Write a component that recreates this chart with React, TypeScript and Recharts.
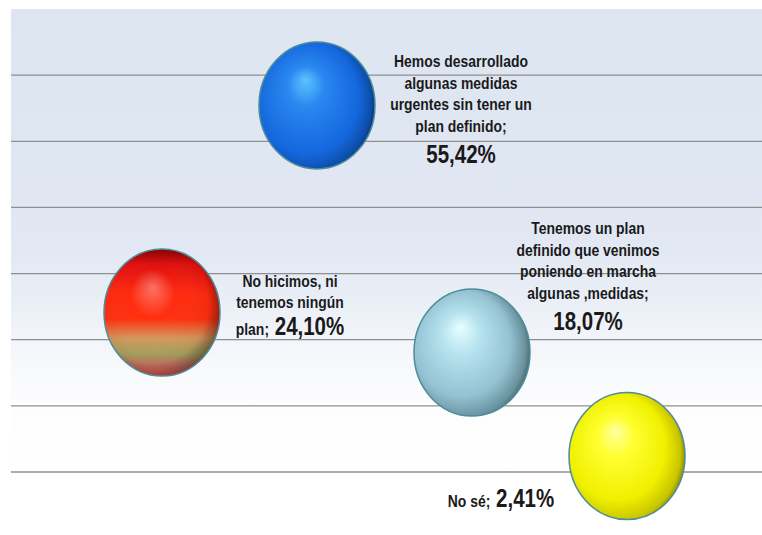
import { LineChart, Line, XAxis, YAxis, CartesianGrid, ReferenceLine } from "recharts"

const categories = [
  "No hicimos, ni tenemos ningún plan",
  "Hemos desarrollado algunas medidas urgentes sin tener un plan definido",
  "Tenemos un plan definido que venimos poniendo en marcha algunas ,medidas",
  "No sé",
]
const values = [24.1, 55.42, 18.07, 2.41]
const labelLines = [
  ["No hicimos, ni", "tenemos ningún", "plan;"],
  ["Hemos desarrollado", "algunas medidas", "urgentes sin tener un", "plan definido;"],
  ["Tenemos un plan", "definido que venimos", "poniendo en marcha", "algunas ,medidas;"],
  ["No sé;"],
]
const yTicks = [0, 10, 20, 30, 40, 50, 60]
const yMax = 70

const data = categories.map((name, i) => ({ name, value: values[i] }))

// label placement relative to each sphere centre
const labelLayout = [
  { dx: 128, dy: -26, inline: true },
  { dx: 144, dy: -38, inline: false },
  { dx: 116, dy: -118, inline: false },
  { dx: -126, dy: 51, inline: true },
]

const FONT = '"Liberation Sans", Arial, sans-serif'
const RX = 58
const RY = 63.5

const fmt = (v: number) => v.toFixed(2).replace(".", ",") + "%"

function SphereDot(props: any) {
  const { cx, cy, index } = props
  if (cx == null || cy == null) return <g key={`dot-${index}`} />
  const lay = labelLayout[index]
  const lines = labelLines[index]
  const lx = cx + lay.dx
  const lineH = 21.5
  const val = fmt(values[index])
  return (
    <g key={`dot-${index}`}>
      <ellipse cx={cx} cy={cy} rx={RX} ry={RY} fill={`url(#sphere-${index})`} />
      {index === 0 && <ellipse cx={cx} cy={cy} rx={RX} ry={RY} fill="url(#sphere-shade)" />}
      <ellipse cx={cx} cy={cy} rx={RX} ry={RY} fill="none" stroke="#4d8c9a" strokeWidth={1.5} />
      <g
        transform={`translate(${lx},0) scale(0.82,1)`}
        fontFamily={FONT}
        fontWeight="bold"
        fill="#1a1a1a"
        textAnchor="middle"
      >
        {lines.map((t, k) => {
          const last = k === lines.length - 1
          const y = cy + lay.dy + k * lineH + (last && lay.inline && k > 0 ? 5.5 : 0)
          if (last && lay.inline) {
            return (
              <text key={k} x={0} y={y} fontSize={17}>
                {t}
                <tspan fontSize={25}> {val}</tspan>
              </text>
            )
          }
          return (
            <text key={k} x={0} y={y} fontSize={17}>
              {t}
            </text>
          )
        })}
        {!lay.inline && (
          <text x={0} y={cy + lay.dy + (lines.length - 1) * lineH + 31} fontSize={25}>
            {val}
          </text>
        )}
      </g>
    </g>
  )
}

export default function App() {
  return (
    <div style={{ position: "absolute", left: 0, top: 0, width: 762, height: 535, overflow: "hidden" }}>
      <LineChart width={762} height={535} data={data} margin={{ top: 9, right: 0, bottom: 63, left: 11 }}>
        <defs>
          <linearGradient id="bg" x1="0" y1="0" x2="0" y2="1">
            <stop offset="0" stopColor="#dde5f1" />
            <stop offset="0.5" stopColor="#e1e8f3" />
            <stop offset="0.62" stopColor="#e9eef6" />
            <stop offset="0.76" stopColor="#f6f8fb" />
            <stop offset="0.86" stopColor="#fdfdfe" />
            <stop offset="1" stopColor="#ffffff" />
          </linearGradient>
          <radialGradient id="sphere-1" cx="0.42" cy="0.5" r="0.64" fx="0.4" fy="0.3">
            <stop offset="0" stopColor="#5cc4ff" />
            <stop offset="0.25" stopColor="#2a88f0" />
            <stop offset="0.7" stopColor="#1466dc" />
            <stop offset="0.86" stopColor="#0c4ea8" />
            <stop offset="1" stopColor="#021530" />
          </radialGradient>
          <radialGradient id="sphere-2" cx="0.42" cy="0.5" r="0.64" fx="0.4" fy="0.3">
            <stop offset="0" stopColor="#e8ffff" />
            <stop offset="0.25" stopColor="#b8e4f0" />
            <stop offset="0.65" stopColor="#94c2d2" />
            <stop offset="0.85" stopColor="#6a929e" />
            <stop offset="1" stopColor="#24343a" />
          </radialGradient>
          <radialGradient id="sphere-3" cx="0.42" cy="0.5" r="0.64" fx="0.4" fy="0.3">
            <stop offset="0" stopColor="#ffffa0" />
            <stop offset="0.25" stopColor="#ffff30" />
            <stop offset="0.65" stopColor="#f0f000" />
            <stop offset="0.85" stopColor="#c8c400" />
            <stop offset="1" stopColor="#444200" />
          </radialGradient>
          <linearGradient id="sphere-0" x1="0" y1="0" x2="0" y2="1">
            <stop offset="0" stopColor="#8a0000" />
            <stop offset="0.12" stopColor="#e01010" />
            <stop offset="0.35" stopColor="#ff2a10" />
            <stop offset="0.55" stopColor="#ff3010" />
            <stop offset="0.7" stopColor="#d8985c" />
            <stop offset="0.82" stopColor="#a8a460" />
            <stop offset="0.92" stopColor="#c87060" />
            <stop offset="1" stopColor="#f05850" />
          </linearGradient>
          <radialGradient id="sphere-shade" cx="0.42" cy="0.46" r="0.64" fx="0.42" fy="0.3">
            <stop offset="0" stopColor="#ffffff" stopOpacity={0.35} />
            <stop offset="0.3" stopColor="#ffffff" stopOpacity={0} />
            <stop offset="0.75" stopColor="#000000" stopOpacity={0.05} />
            <stop offset="0.92" stopColor="#000000" stopOpacity={0.4} />
            <stop offset="1" stopColor="#000000" stopOpacity={0.65} />
          </radialGradient>
        </defs>
        <CartesianGrid horizontal={false} vertical={false} fill="url(#bg)" fillOpacity={1} />
        <XAxis dataKey="name" hide padding={{ left: 151, right: 135 }} />
        <YAxis hide domain={[0, yMax]} ticks={yTicks} />
        {yTicks.map((t) => (
          <ReferenceLine key={t} y={t} stroke="#8f8f8f" strokeWidth={1.3} />
        ))}
        <Line dataKey="value" stroke="none" isAnimationActive={false} dot={SphereDot} activeDot={false} />
      </LineChart>
    </div>
  )
}
